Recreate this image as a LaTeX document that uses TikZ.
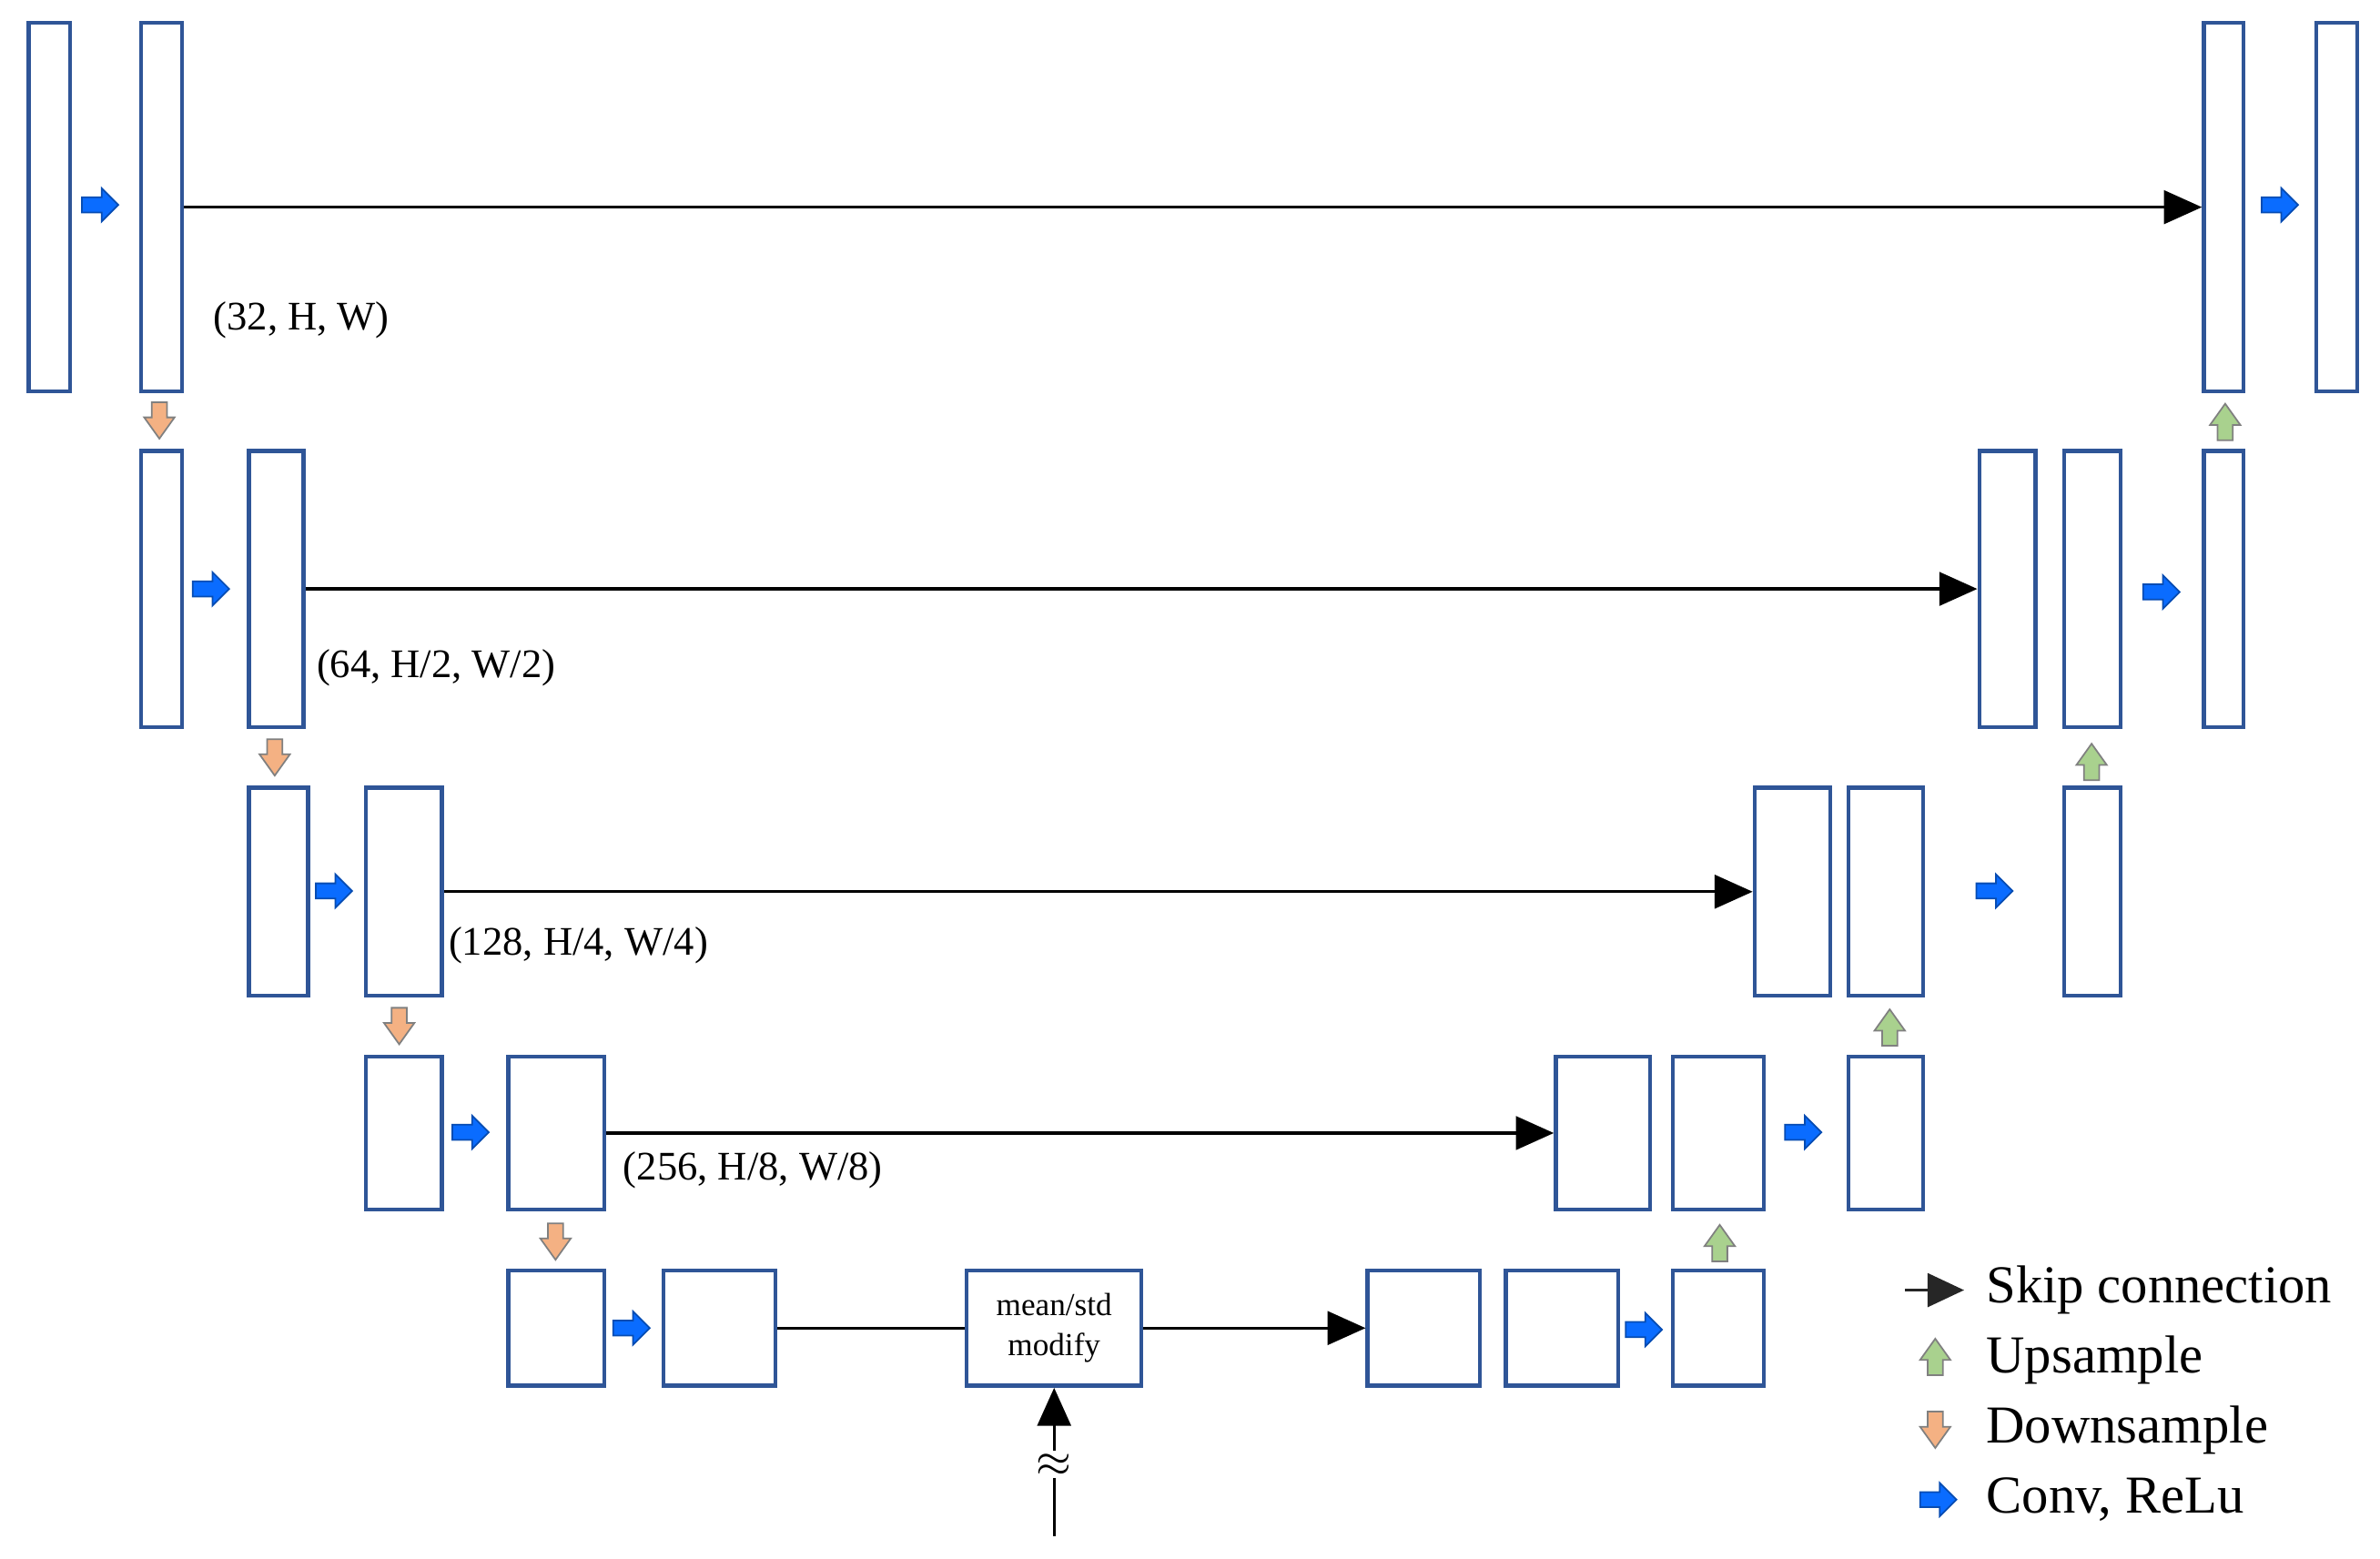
\documentclass[tikz,border=0pt]{standalone}
\usepackage{fontspec}
\setmainfont{Liberation Serif}
\usetikzlibrary{arrows.meta}
\definecolor{bx}{HTML}{2F5597}
\definecolor{cv}{HTML}{0A6CFF}
\definecolor{up}{HTML}{A9D18E}
\definecolor{dn}{HTML}{F4B183}
\newcommand\bx[5]{\node[blk,minimum width={(#4-#2)*0.01cm},minimum height={(#5-#3)*0.01cm}] (#1) at ({(#2+#4)/2},{(#3+#5)/2}) {};}
\tikzset{
 blk/.style={draw=bx,line width=0.75pt,inner sep=0pt,fill=white},
 skip/.style={draw=black,line width=0.55pt,-{Triangle[length=0.25cm,width=0.22cm]}},
 lbl/.style={font=\fontsize{7.6}{9}\selectfont,anchor=west,inner sep=0pt},
 leg/.style={font=\fontsize{10}{12}\selectfont,anchor=west,inner sep=0pt},
 conv/.pic={\filldraw[fill=cv,draw=cv!70!black,line width=0.3pt] (-12,-5)--(1,-5)--(1,-11)--(12,0)--(1,11)--(1,5)--(-12,5)--cycle;},
 upa/.pic={\filldraw[fill=up,draw=gray,line width=0.3pt] (-5,12)--(-5,2)--(-10,2)--(0,-12)--(10,2)--(5,2)--(5,12)--cycle;},
 dna/.pic={\filldraw[fill=dn,draw=gray,line width=0.3pt] (-5,-12)--(-5,-2)--(-10,-2)--(0,12)--(10,-2)--(5,-2)--(5,-12)--cycle;},
}
\begin{document}
\begin{tikzpicture}[x=0.01cm,y=-0.01cm]
\useasboundingbox (0,0) rectangle (1568,1027);
% row 1
\bx{A1}{19}{15}{46}{258}
\bx{A2}{93}{15}{120}{258}
\bx{RA1}{1452}{15}{1478}{258}
\bx{RA2}{1526}{15}{1553}{258}
% row 2
\bx{B1}{93}{297}{120}{479}
\bx{B2}{164}{297}{200}{479}
\bx{RB1}{1304}{297}{1341}{479}
\bx{RB2}{1360}{297}{1397}{479}
\bx{RB3}{1452}{297}{1478}{479}
% row 3
\bx{C1}{164}{519}{203}{656}
\bx{C2}{241}{519}{291}{656}
\bx{RC1}{1156}{519}{1206}{656}
\bx{RC2}{1218}{519}{1267}{656}
\bx{RC3}{1360}{519}{1397}{656}
% row 4
\bx{D1}{241}{696}{291}{797}
\bx{D2}{335}{696}{398}{797}
\bx{RD1}{1025}{696}{1087}{797}
\bx{RD2}{1102}{696}{1162}{797}
\bx{RD3}{1218}{696}{1267}{797}
% row 5
\bx{E1}{335}{837}{398}{913}
\bx{E2}{437}{837}{511}{913}
\bx{F1}{901}{837}{975}{913}
\bx{F2}{992}{837}{1066}{913}
\bx{F3}{1102}{837}{1162}{913}
\node[blk,minimum width=1.15cm,minimum height=0.76cm,align=center,font=\fontsize{6}{7.6}\selectfont] (ms) at (694.5,875) {mean/std\\modify};
% skips
\draw[skip] (A2) -- (RA1);
\draw[skip] (B2) -- (RB1);
\draw[skip] (C2.east) -- (RC1.west);
\draw[skip] (D2.east) -- (RD1.west);
\draw[line width=0.55pt] (E2.east) -- (ms.west);
\draw[skip] (ms.east) -- (F1.west);
\coordinate (in) at (694.5,1012);
\draw[skip] (in) -- (ms.south);
\node[fill=white,inner sep=0.5pt,font=\fontsize{8}{8}\selectfont,rotate=0] (apx) at (694.5,965) {$\approx$};
% labels
\node[lbl] (l1) at (140,211) {(32, H, W)};
\node[lbl] (l2) at (208,440) {(64, H/2, W/2)};
\node[lbl] (l3) at (295,623) {(128, H/4, W/4)};
\node[lbl] (l4) at (410,771) {(256, H/8, W/8)};
% conv arrows
\foreach \x/\y in {66/135,1502/135,139/388,1424/390,220/587,1314/587,310/746,1188/746,416/875,1083/876}
  \pic at (\x,\y) {conv};
% down arrows
\foreach \x/\y in {105/277,181/499,263/676,366/818}
  \pic at (\x,\y) {dna};
% up arrows
\foreach \x/\y in {1466/278,1378/502,1245/677,1133/819}
  \pic at (\x,\y) {upa};
% legend
\coordinate (ls) at (1255,850);
\coordinate (le) at (1294,850);
\draw[line width=0.6pt,draw=black!85,-{Triangle[length=0.24cm,width=0.22cm]}] (ls) -- (le);
\pic at (1275,894) {upa};
\pic at (1275,942) {dna};
\pic at (1277,988) {conv};
\node[leg] (t1) at (1308,850) {Skip connection};
\node[leg] (t2) at (1308,896) {Upsample};
\node[leg] (t3) at (1308,942) {Downsample};
\node[leg] (t4) at (1308,988) {Conv, ReLu};
\end{tikzpicture}
\end{document}
